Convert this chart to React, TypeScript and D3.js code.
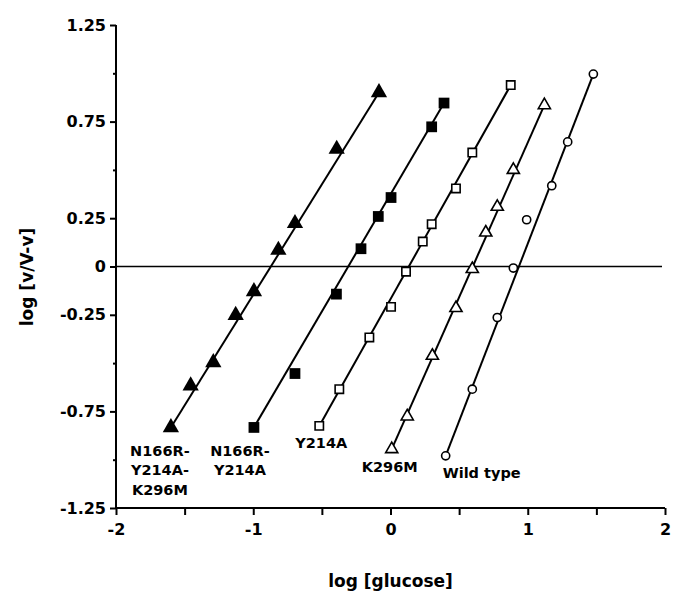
import React, { useEffect, useRef } from "react";
import * as d3 from "d3";

// log [glucose] / log [v/V-v] pairs
const tripleX = [-1.6, -1.456, -1.291, -1.128, -0.995, -0.817, -0.696, -0.392, -0.084];
const tripleY = [-0.833, -0.617, -0.497, -0.252, -0.129, 0.085, 0.223, 0.608, 0.901];

const doubleX = [-0.995, -0.696, -0.394, -0.215, -0.089, 0.004, 0.3, 0.39];
const doubleY = [-0.833, -0.554, -0.143, 0.092, 0.259, 0.357, 0.723, 0.846];

const y214aX = [-0.519, -0.373, -0.154, 0.004, 0.113, 0.235, 0.3, 0.477, 0.596, 0.876];
const y214aY = [-0.825, -0.635, -0.367, -0.209, -0.027, 0.129, 0.219, 0.404, 0.59, 0.939];

const k296mX = [0.009, 0.122, 0.305, 0.477, 0.596, 0.694, 0.778, 0.895, 1.121];
const k296mY = [-0.945, -0.776, -0.462, -0.215, -0.013, 0.176, 0.309, 0.5, 0.835];

const wildX = [0.402, 0.596, 0.778, 0.895, 0.992, 1.175, 1.291, 1.478];
const wildY = [-0.98, -0.635, -0.264, -0.008, 0.242, 0.418, 0.645, 0.996];

const xTicks = [-2, -1.5, -1, -0.5, 0, 0.5, 1, 1.5, 2];
const xTickLabels = ["-2", "", "-1", "", "0", "", "1", "", "2"];
const yTicks = [1.25, 1, 0.75, 0.5, 0.25, 0, -0.25, -0.5, -0.75, -1, -1.25];
const yTickLabels = ["1.25", "", "0.75", "", "0.25", "0", "-0.25", "", "-0.75", "", "-1.25"];

const seriesNames = [
  ["N166R-", "Y214A-", "K296M"],
  ["N166R-", "Y214A"],
  ["Y214A"],
  ["K296M"],
  ["Wild type"],
];

const FONT = "'DejaVu Sans', Verdana, sans-serif";

export default function App() {
  const ref = useRef<SVGSVGElement>(null);

  useEffect(() => {
    const width = 682;
    const height = 594;
    const svg = d3.select(ref.current).attr("width", width).attr("height", height);
    svg.selectAll("*").remove();

    const x = d3.scaleLinear().domain([-2, 2]).range([116, 665]);
    const y = d3.scaleLinear().domain([-1.25, 1.25]).range([508, 25]);

    const series = [
      { xs: tripleX, ys: tripleY, shape: d3.symbolTriangle, size: 115, fill: "#000", sw: 0, label: { dx: -11, dy: 23, anchor: "middle" } },
      { xs: doubleX, ys: doubleY, shape: d3.symbolSquare, size: 116, fill: "#000", sw: 0, label: { dx: -14, dy: 23, anchor: "middle" } },
      { xs: y214aX, ys: y214aY, shape: d3.symbolSquare, size: 70, fill: "#fff", sw: 1.6, label: { dx: 2, dy: 17, anchor: "middle" } },
      { xs: k296mX, ys: k296mY, shape: d3.symbolTriangle, size: 64, fill: "#fff", sw: 1.6, label: { dx: -2, dy: 18, anchor: "middle" } },
      { xs: wildX, ys: wildY, shape: d3.symbolCircle, size: 52, fill: "#fff", sw: 1.6, label: { dx: -3, dy: 17, anchor: "start" } },
    ];

    // zero line
    svg.append("line")
      .attr("x1", x(-2)).attr("x2", 662)
      .attr("y1", y(0)).attr("y2", y(0))
      .attr("stroke", "#000").attr("stroke-width", 1.6);

    // fitted lines, first to last point
    series.forEach(s => {
      const n = s.xs.length - 1;
      svg.append("line")
        .attr("x1", x(s.xs[0])).attr("y1", y(s.ys[0]))
        .attr("x2", x(s.xs[n])).attr("y2", y(s.ys[n]))
        .attr("stroke", "#000").attr("stroke-width", 2);
    });

    // markers
    series.forEach(s => {
      const pts = s.xs.map((v, i) => [v, s.ys[i]]);
      svg.append("g").selectAll("path")
        .data(pts)
        .enter()
        .append("path")
        .attr("d", d3.symbol().type(s.shape).size(s.size))
        .attr("transform", d => `translate(${x(d[0])},${y(d[1])})`)
        .attr("fill", s.fill)
        .attr("stroke", "#000")
        .attr("stroke-width", s.sw);
    });

    // series labels
    series.forEach((s, i) => {
      const t = svg.append("text")
        .attr("font-family", FONT)
        .attr("font-weight", "bold")
        .attr("font-size", 14.5)
        .attr("text-anchor", s.label.anchor);
      seriesNames[i].forEach((line, j) => {
        t.append("tspan")
          .attr("x", x(s.xs[0]) + s.label.dx)
          .attr("y", y(s.ys[0]) + s.label.dy + j * 19.5)
          .attr("dy", "0.35em")
          .text(line);
      });
    });

    // axes
    const axisX = d3.axisBottom(x).tickValues(xTicks).tickSize(7).tickPadding(9)
      .tickFormat((d, i) => xTickLabels[i]);
    const gx = svg.append("g").attr("transform", `translate(0,${y(-1.25)})`).call(axisX);

    const axisY = d3.axisLeft(y).tickValues(yTicks).tickSize(6).tickPadding(4)
      .tickFormat((d, i) => yTickLabels[i]);
    const gy = svg.append("g").attr("transform", `translate(${x(-2)},0)`).call(axisY);

    [gx, gy].forEach(g => {
      g.select(".domain").attr("stroke-width", 2);
      g.selectAll(".tick line").attr("stroke-width", 2);
      g.selectAll("text")
        .attr("font-family", FONT)
        .attr("font-weight", "bold")
        .attr("font-size", 16)
        .attr("fill", "#000");
    });
    gx.select(".domain").attr("d", `M${x(-2)},0H${x(2)}`);
    gy.select(".domain").attr("d", `M0,${y(1.25)}V${y(-1.25)}`);
    gy.selectAll(".tick line").attr("x2", (d, i) => (yTickLabels[i] === "" ? -3 : -6));

    // axis titles
    svg.append("text")
      .attr("x", (x(-2) + x(2)) / 2)
      .attr("y", 587)
      .attr("text-anchor", "middle")
      .attr("font-family", FONT)
      .attr("font-weight", "bold")
      .attr("font-size", 17)
      .text("log [glucose]");

    svg.append("text")
      .attr("transform", `translate(33,277) rotate(-90)`)
      .attr("text-anchor", "middle")
      .attr("font-family", FONT)
      .attr("font-weight", "bold")
      .attr("font-size", 17)
      .text("log [v/V-v]");
  }, []);

  return (
    <svg ref={ref} style={{ position: "absolute", left: 0, top: 0, background: "#fff" }} />
  );
}
